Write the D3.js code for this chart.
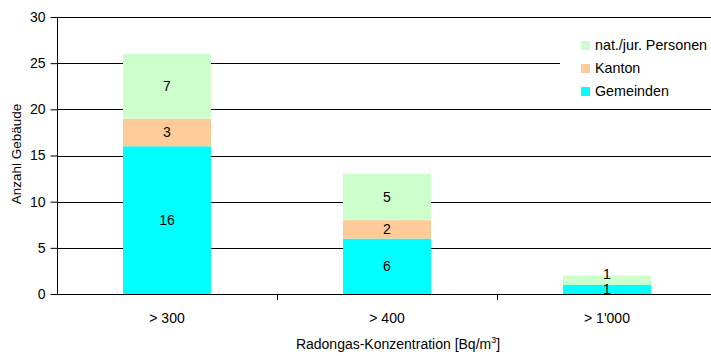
<!DOCTYPE html>
<html><head><meta charset="utf-8">
<script src="https://cdn.jsdelivr.net/npm/d3@7"></script>
<style>body{margin:0;background:#fff}svg{display:block}text{font-family:"Liberation Sans",Arial,sans-serif;fill:#000}</style>
</head><body>
<script>
const categories = ["> 300", "> 400", "> 1'000"];
const seriesNames = ["Gemeinden", "Kanton", "nat./jur. Personen"];
const gemeinden = [16, 6, 1];
const kanton = [3, 2, 0];
const personen = [7, 5, 1];
const yTicks = [0, 5, 10, 15, 20, 25, 30];
const colors = ["#00FFFF", "#FFCC99", "#CCFFCC"];

const W = 711, H = 356;
const pL = 57, pR = 717, pT = 17, pB = 294;
const FS = 14;
const svg = d3.select("body").append("svg").attr("width", W).attr("height", H);

const x = d3.scaleBand().domain(categories).range([pL, pR]).paddingInner(0.6).paddingOuter(0.3);
const y = d3.scaleLinear().domain([0, 30]).range([pB, pT]);

// gridlines
svg.append("g").selectAll("line").data(yTicks.filter(d => d > 0)).join("line")
  .attr("x1", pL).attr("x2", pR)
  .attr("y1", d => Math.round(y(d)) + 0.5).attr("y2", d => Math.round(y(d)) + 0.5)
  .attr("stroke", "#000").attr("stroke-width", 1);

const table = categories.map((c, i) => ({cat: c, Gemeinden: gemeinden[i], Kanton: kanton[i], "nat./jur. Personen": personen[i]}));
const stack = d3.stack().keys(seriesNames)(table);

const g = svg.append("g");
stack.forEach((layer, li) => {
  g.selectAll(null).data(layer).join("rect")
    .attr("x", d => x(d.data.cat)).attr("width", x.bandwidth())
    .attr("y", d => y(d[1])).attr("height", d => y(d[0]) - y(d[1]))
    .attr("fill", colors[li]);
});
// labels, pushed up when they would collide with the label below
const lastLabel = {};
stack.forEach((layer, li) => {
  layer.forEach(d => {
    const v = d[1] - d[0];
    if (v <= 0) return;
    let by = (y(d[0]) + y(d[1])) / 2 + 5;
    const prev = lastLabel[d.data.cat];
    if (prev !== undefined && prev - by < 15) by = prev - 15;
    lastLabel[d.data.cat] = by;
    g.append("text")
      .attr("x", x(d.data.cat) + x.bandwidth() / 2).attr("y", by)
      .attr("text-anchor", "middle").attr("font-size", FS).text(v);
  });
});

// y axis
const ya = svg.append("g").attr("transform", `translate(${pL + 0.5},0)`)
  .call(d3.axisLeft(y).tickValues(yTicks).tickSize(7).tickPadding(5));
ya.select(".domain").attr("stroke", "#000").attr("d", `M0,${pT}V${pB}`);
ya.selectAll(".tick line").attr("stroke", "#000");
ya.selectAll("text").attr("font-size", FS).attr("font-family", "Liberation Sans, Arial, sans-serif").attr("fill", "#000");

// x axis
svg.append("line").attr("x1", pL).attr("x2", pR).attr("y1", pB + 0.5).attr("y2", pB + 0.5).attr("stroke", "#000");
const bounds = [1, 2].map(i => pL + i * (pR - pL) / 3);
svg.selectAll(null).data(bounds).join("line")
  .attr("x1", d => Math.round(d) + 0.5).attr("x2", d => Math.round(d) + 0.5)
  .attr("y1", pB).attr("y2", pB + 6).attr("stroke", "#000");
svg.selectAll(null).data(categories).join("text")
  .attr("x", d => x(d) + x.bandwidth() / 2).attr("y", 323)
  .attr("text-anchor", "middle").attr("font-size", FS).text(d => d);

// axis titles
const xt = svg.append("text").attr("x", 398).attr("y", 349).attr("text-anchor", "middle").attr("font-size", FS);
xt.append("tspan").text("Radongas-Konzentration [Bq/m");
xt.append("tspan").attr("font-size", 9).attr("dy", -6).text("3");
xt.append("tspan").attr("dy", 6).text("]");
svg.append("text").attr("transform", "translate(21,154) rotate(-90)").attr("text-anchor", "middle")
  .attr("font-size", 13.5).text("Anzahl Gebäude");

// legend
const legend = svg.append("g");
legend.append("rect").attr("x", 560).attr("y", 30).attr("width", 151).attr("height", 72).attr("fill", "#fff");
const legItems = [2, 1, 0];
legItems.forEach((si, k) => {
  const yy = 41 + k * 23;
  legend.append("rect").attr("x", 581).attr("y", yy).attr("width", 9).attr("height", 9).attr("fill", colors[si]);
  legend.append("text").attr("x", 595).attr("y", yy + 9).attr("font-size", 14.3).text(seriesNames[si]);
});
</script>
</body></html>
